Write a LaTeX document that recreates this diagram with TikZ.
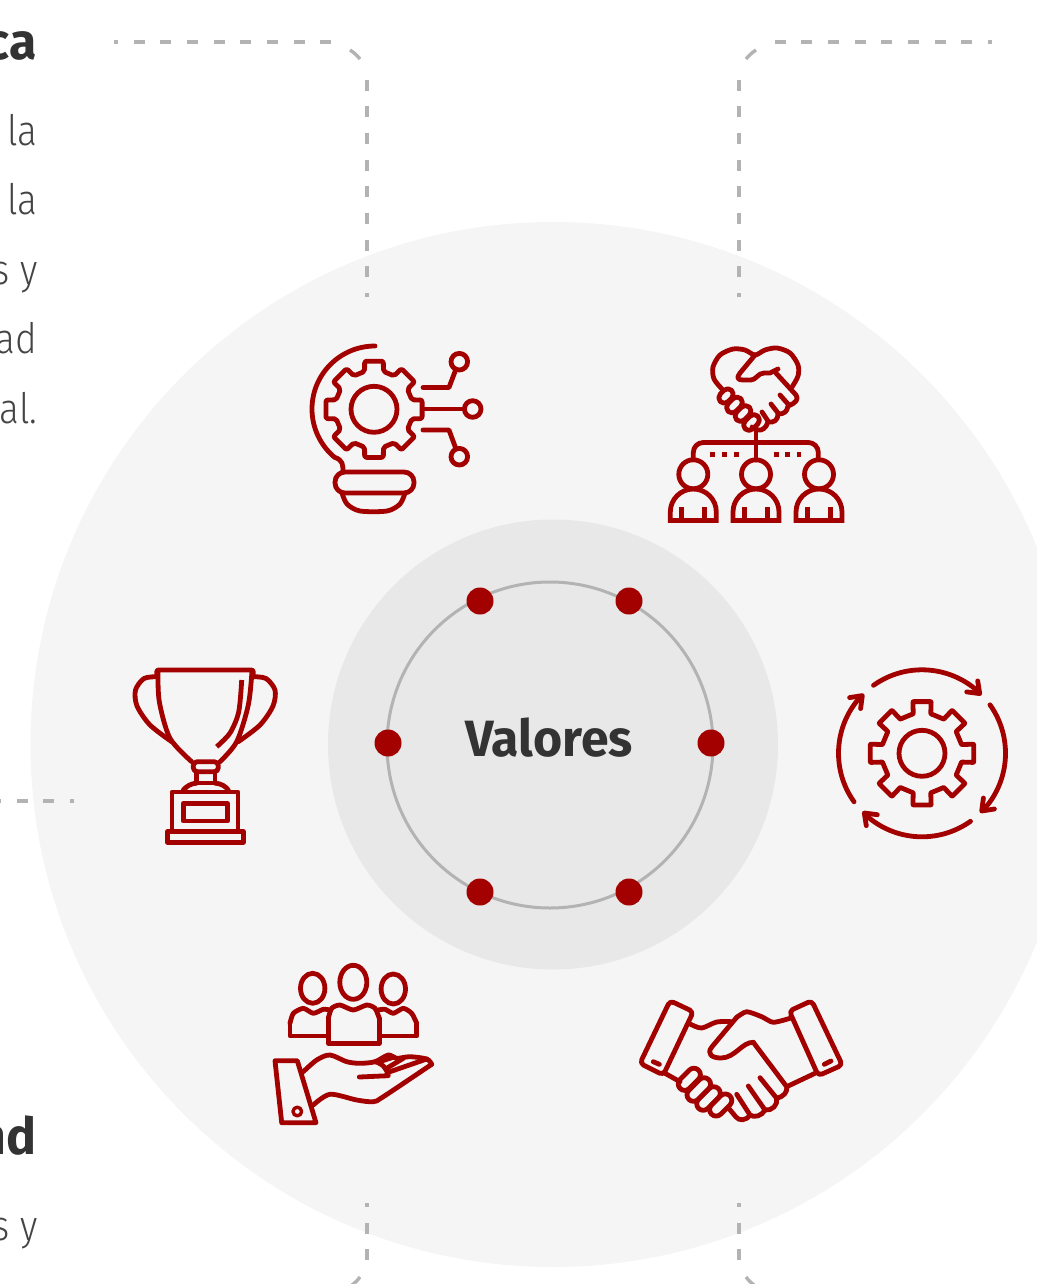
\documentclass[tikz,border=0pt]{standalone}
\usepackage{fontspec}
\setmainfont{Fira Sans}
\newfontfamily\thinfont{Fira Sans Light}
\definecolor{valred}{HTML}{A30000}
\definecolor{darkring}{HTML}{E8E8E8}
\definecolor{softring}{HTML}{F5F5F5}
\definecolor{guidegray}{HTML}{B3B3B3}
\definecolor{titlegray}{HTML}{333333}
\definecolor{bodygray}{HTML}{444444}
\newcommand{\gearshape}[6]{
    \draw[iconline,rounded corners=#6pt,shift={(#1)}] (-#4:#2) \foreach \a in {0,45,...,270} {
        -- (\a+#4:#2) -- (\a+#5:#3) -- (\a+45-#5:#3) -- (\a+45-#4:#2)
    } -- (315+#4:#2) -- (315+#5:#3) -- (360-#5:#3) -- cycle;
}
\newcommand{\fingerlink}[5]{
    \draw[iconline,rounded corners=#5pt,shift={(#1,#2)},rotate=#3] (-#4,-#5) rectangle (#4,#5);
}
\tikzset{
    iconline/.style={draw=valred,line width=4.8pt,line cap=round,line join=round},
    guide/.style={draw=guidegray,line width=3.4pt,dash pattern=on 11pt off 15.67pt,dash phase=7pt},
    bigword/.style={font=\bfseries\fontsize{51}{51}\selectfont,text=titlegray,xscale=.98,anchor=base east,inner sep=0pt},
    lineword/.style={font=\thinfont\fontsize{42}{42}\selectfont,text=bodygray,xscale=.88,anchor=base east,inner sep=0pt}
}
\begin{document}
\begin{tikzpicture}[x=1pt,y=-1pt]
    \clip (0,0) rectangle (1037,1284);
    \fill[softring] (553,744.5) circle[radius=522.5];
    \fill[darkring] (553,744.5) circle[radius=225];
    \draw[guidegray,line width=3pt] (550,745) circle[radius=163];
    \foreach \px/\py in {480/601,629/601,388/743,711/743,480/892,629/892} {
        \fill[valred] (\px,\py) circle[radius=13.5];
    }
    \node[font=\bfseries\fontsize{51}{51}\selectfont,text=titlegray,xscale=.98] (valores) at (549,738) {Valores};

    \node[bigword] (titleA) at (37,60) {ca};
    \node[bigword] (titleB) at (37,1154) {nd};
    \node[lineword] (lineA) at (37.5,146) {la};
    \node[lineword] (lineB) at (37.5,214) {la};
    \node[lineword] (lineC) at (37.5,284) {s y};
    \node[lineword] (lineD) at (37.5,353.5) {ad};
    \node[lineword] (lineE) at (37.5,423) {al.};
    \node[lineword] (lineF) at (37.5,1240) {s y};

    \draw[guide] (114,42)--(333.3,42);
    \draw[guide] (992,42)--(772.7,42);
    \draw[guidegray,line width=3.4pt] (350,50) to[bend left=8] (360,59);
    \draw[guidegray,line width=3.4pt] (756,50) to[bend right=8] (746,59);
    \draw[guidegray,line width=3.4pt] (360,1277) to[bend left=8] (352,1285);
    \draw[guidegray,line width=3.4pt] (746,1277) to[bend right=8] (754,1285);
    \foreach \vx in {367,739} {
        \draw[guide] (\vx,297)--(\vx,76);
        \draw[guide] (\vx,1203)--(\vx,1260);
    }
    \draw[guide] (74,801)--(0,801);

    \gearshape{374,409.3}{49}{39}{11}{14}{2}
    \draw[iconline] (374,409.3) circle[radius=23];
    \draw[iconline] (375,346) arc[start angle=-90,end angle=-230,radius=63] .. controls (343,460) and (343,465) .. (343,472);
    \draw[iconline,rounded corners=10pt] (335,472) rectangle (414,493);
    \draw[iconline] plot[smooth] coordinates {(342,493) (347,504) (360,511) (387,511) (400,504) (405,493)};
    \draw[iconline] (423,409)--(464,409);
    \draw[iconline] (472.7,409) circle[radius=8.3];
    \draw[iconline] (423,387.5)--(449,387.5)--(456,369);
    \draw[iconline] (459.3,361.7) circle[radius=8.3];
    \draw[iconline] (423,430)--(449,430)--(456,449);
    \draw[iconline] (459.3,456.7) circle[radius=8.3];

    \draw[iconline] plot[smooth] coordinates {(722,389) (714,379) (713,367) (720,355) (733,349) (745,350) (755,355) (765,350) (777,348) (790,353) (798,365) (798,376) (792,387)};
    \draw[iconline] (755,355)--(740,373) .. controls (736,378) and (738,380) .. (743,380) -- (751,380) .. controls (756,380) and (758,373) .. (764,373) -- (770,373)--(778,369);
    \draw[iconline] (775,372)--(796,395) .. controls (799,399) and (796,403) .. (788,406) .. controls (787,412) and (784,414) .. (778,414) .. controls (778,420) and (774,423) .. (768,422) .. controls (766,428) and (762,431) .. (758,430) -- (752,427);
    \draw[iconline] (780,395)--(788,404);
    \draw[iconline] (771,404)--(778,413);
    \draw[iconline] (762,412)--(768,421);
    \fingerlink{726}{396}{45}{8}{5.5}
    \fingerlink{734.5}{405}{45}{9}{5.5}
    \fingerlink{743}{413.5}{45}{9}{5.5}
    \fingerlink{751.5}{422.5}{45}{9}{5.5}
    \draw[iconline] (756,429)--(756,460);
    \draw[iconline,rounded corners=10pt] (693.3,458)--(693.3,442.5)--(818.3,442.5)--(818.3,458);
    \foreach \qx in {712.7,724.3,736.3,776.7,787.7,799} {
        \fill[valred] (\qx-2.3,452) rectangle (\qx+2.3,456.6);
    }
    \foreach \mx in {693.3,756,819} {
        \draw[iconline] (\mx,474.3) circle[radius=14.5];
        \draw[iconline,line cap=butt,line join=miter] (\mx-23,520.5)--(\mx-23,512) arc[start angle=180,end angle=360,radius=23]--(\mx+23,520.5)--cycle;
        \draw[iconline,line cap=butt] (\mx-11.5,507)--(\mx-11.5,520);
        \draw[iconline,line cap=butt] (\mx+11.5,507)--(\mx+11.5,520);
    }

    \gearshape{922,753.3}{52.5}{40.5}{10}{12.5}{0.5}
    \draw[iconline] (922,753.3) circle[radius=23];
    \foreach \k in {0,90,180,270} {
        \begin{scope}[shift={(922,753.3)},rotate=-\k]
            \draw[iconline] (234.5:83.5) arc[start angle=234.5,end angle=312,radius=83.5];
            \draw[iconline] (55.7,-72.4)--(57.7,-59.7)--(44.7,-61.4);
        \end{scope}
    }

    \draw[iconline,rounded corners=4pt] (670,1000.7)--(693.3,1011.7)--(663.3,1075)--(640,1063.3)--cycle;
    \draw[iconline] (653.3,1061.7)--(659.3,1064.3);
    \draw[iconline,rounded corners=4pt] (811.7,1000.7)--(789.3,1011)--(818.3,1075.7)--(842.3,1065)--cycle;
    \draw[iconline] (824.3,1064.3)--(831,1061);
    \draw[iconline] plot[smooth] coordinates {(690.7,1024.3) (701.7,1028) (716.7,1022) (731.7,1021.7)};
    \draw[iconline] plot[smooth,tension=.4] coordinates {(790,1018.3) (773.3,1022.3) (761.7,1016.7) (746.7,1011.7) (736.7,1017.3)};
    \draw[iconline] (736.7,1017.3)--(712,1046.7) .. controls (706,1054) and (712,1058) .. (721,1058) .. controls (735,1058) and (742,1042) .. (753.3,1042.3);
    \draw[iconline] (753.3,1042.3)--(786.7,1086.7) .. controls (788,1092) and (783,1097) .. (776.7,1098.3) -- (760,1077.7);
    \draw[iconline] (776.7,1098.3) .. controls (778,1105) and (772,1111) .. (765,1110) -- (748.3,1086);
    \draw[iconline] (765,1110) .. controls (762,1116) and (754,1118) .. (750,1115) -- (736.7,1094.3);
    \draw[iconline] (750,1115) .. controls (746,1121) and (739,1121) .. (736,1117) -- (729.3,1109);
    \draw[iconline] (786.7,1086.7)--(815,1073.3);
    \draw[iconline] (665,1073.3)--(680,1081.7);
    \fingerlink{689.3}{1079.3}{45}{13}{6.5}
    \fingerlink{698.8}{1089.5}{45}{14}{6.5}
    \fingerlink{708.5}{1098.5}{45}{14}{6.5}
    \fingerlink{720.7}{1105}{45}{13}{6.5}

    \draw[iconline] (312.7,988.3) ellipse[x radius=12.2,y radius=15];
    \draw[iconline] (353.3,982.3) ellipse[x radius=13.5,y radius=17];
    \draw[iconline] (393.3,989) ellipse[x radius=12.2,y radius=15];
    \draw[iconline] plot[smooth,tension=.4] coordinates {(328.3,1018.3) (331.7,1008.3) (340,1005) (353.3,1010) (366.7,1005) (375,1008.3) (379.3,1018.3)};
    \draw[iconline] (328.3,1018.3)--(328.3,1043.3)--(379.3,1043.3)--(379.3,1018.3);
    \draw[iconline] (328.3,1036)--(290,1036)--(290,1023.3);
    \draw[iconline] plot[smooth,tension=.4] coordinates {(290,1023.3) (293.3,1013.3) (303.3,1008.3) (313.3,1013.3) (323.3,1009.3) (330,1010)};
    \draw[iconline] (379.3,1036)--(416.7,1036)--(416.7,1023.3);
    \draw[iconline] plot[smooth,tension=.4] coordinates {(416.7,1023.3) (411.7,1013.3) (403.3,1008.3) (393.3,1013.3) (385,1009.3) (378,1010)};
    \draw[iconline] (275,1060.7)--(297.3,1060.7)--(316,1122.7)--(281.7,1122.7)--cycle;
    \draw[iconline,line width=3.4pt] (297.3,1111.5) circle[radius=4.3];
    \draw[iconline] plot[smooth,tension=.5] coordinates {(303.3,1071.7) (316.7,1060) (330,1055) (346.7,1061.7) (360,1063.3) (375,1061.7) (388.3,1055) (396.7,1058.3) (410,1056.7) (426.7,1059) (431.7,1064.3)};
    \draw[iconline] plot[smooth,tension=.5] coordinates {(431.7,1064.3) (383.3,1096.7) (373.3,1101.7) (356.7,1100) (330,1094.3) (313.3,1105)};
    \draw[iconline] (359.3,1077)--(388.3,1075.7) .. controls (387,1070) and (384,1064) .. (375,1061.7);
    \draw[iconline] (390,1071.7)--(426.7,1059);
    \draw[iconline] (386.7,1068.3)--(403.3,1058.3);
    \draw[iconline] (381.7,1061)--(394,1057);

    \draw[iconline] plot[smooth] coordinates {(158,671) (159.3,701.7) (170,738.3) (191.7,761.7)};
    \draw[iconline] plot[smooth] coordinates {(252,671) (248.3,705) (236.7,741.7) (220,761.7)};
    \draw[iconline,rounded corners=2pt] (156.7,675)--(156.7,670)--(253.3,670)--(253.3,675);
    \draw[iconline,rounded corners=4pt] (193.3,761.7) rectangle (218.3,771.7);
    \draw[iconline] (196.7,772)--(196.7,783);
    \draw[iconline] (215,772)--(215,783);
    \draw[iconline] (196.7,783)--(215,783);
    \draw[iconline] (183.3,790) .. controls (187,786) and (190,784) .. (196.7,783);
    \draw[iconline] (215,783) .. controls (222,784) and (225,786) .. (228.3,790);
    \draw[iconline] (172,792) rectangle (238,831.7);
    \draw[iconline] (183.3,803.3) rectangle (227.3,821);
    \draw[iconline] (167.7,831.7) rectangle (243.3,842.3);
    \draw[iconline] plot[smooth] coordinates {(156.7,676.7) (144,678.5) (135.5,690) (137,706) (150,725) (171.7,741.7)};
    \draw[iconline] plot[smooth] coordinates {(253.3,676.7) (266,678.5) (275,690) (273,706) (260,725) (238.3,741.7)};
    \draw[iconline,line cap=butt] plot[smooth] coordinates {(241.7,680) (238.7,712) (230,733) (216.7,746.7)};
\end{tikzpicture}
\end{document}
